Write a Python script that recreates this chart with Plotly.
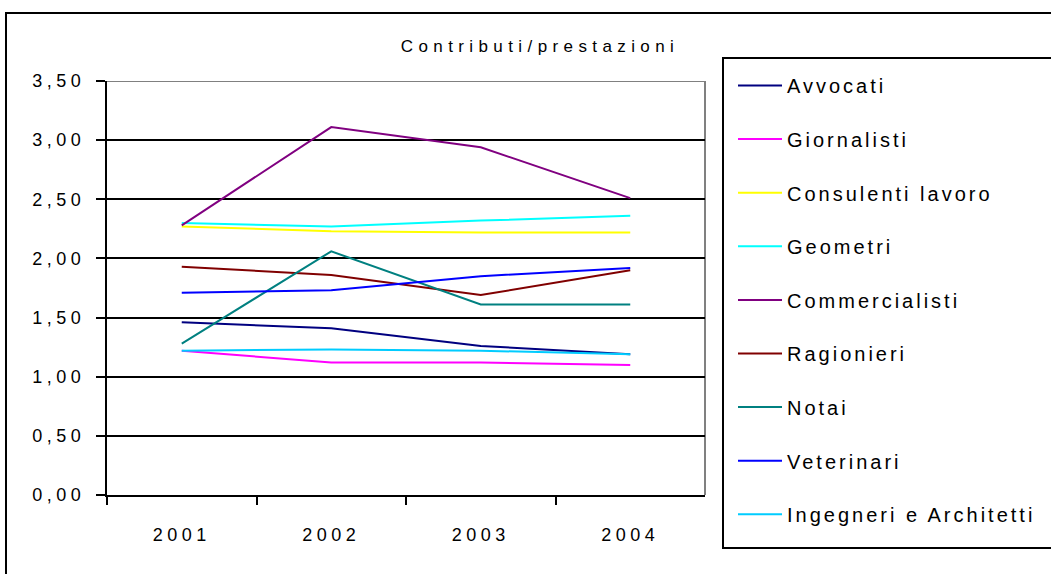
import plotly.graph_objects as go

W, H = 1051, 574

years = ["2001", "2002", "2003", "2004"]

avvocati = [1.46, 1.41, 1.26, 1.19]
giornalisti = [1.22, 1.12, 1.12, 1.10]
consulenti_lavoro = [2.27, 2.23, 2.22, 2.22]
geometri = [2.30, 2.27, 2.32, 2.36]
commercialisti = [2.28, 3.11, 2.94, 2.51]
ragionieri = [1.93, 1.86, 1.69, 1.90]
notai = [1.28, 2.06, 1.61, 1.61]
veterinari = [1.71, 1.73, 1.85, 1.92]
ingegneri_architetti = [1.22, 1.23, 1.22, 1.19]

series_names = ["Avvocati", "Giornalisti", "Consulenti lavoro", "Geometri",
                "Commercialisti", "Ragionieri", "Notai", "Veterinari",
                "Ingegneri e Architetti"]
series_values = [avvocati, giornalisti, consulenti_lavoro, geometri,
                 commercialisti, ragionieri, notai, veterinari,
                 ingegneri_architetti]
series_colors = ["#000080", "#FF00FF", "#FFFF00", "#00FFFF", "#800080",
                 "#800000", "#008080", "#0000FF", "#00CCFF"]

y_ticks = [0, 0.5, 1.0, 1.5, 2.0, 2.5, 3.0, 3.5]
y_tick_labels = ["0,00", "0,50", "1,00", "1,50", "2,00", "2,50", "3,00", "3,50"]

chart_title = "Contributi/prestazioni"

FONT = "Liberation Sans, Arial, sans-serif"


def spaced(text, px):
    return f'<span style="letter-spacing:{px}px">{text}</span>'


def px_x(x):
    return x / W


def px_y(y):
    return 1 - y / H


fig = go.Figure()
for name, vals, color in zip(series_names, series_values, series_colors):
    fig.add_trace(go.Scatter(
        x=years, y=vals, mode="lines", name=spaced(name, 3),
        line=dict(color=color, width=2), legendgroup=name,
    ))

# plot area border (top and right), drawn in grey over the gridlines
fig.add_shape(type="line", xref="x domain", yref="y", x0=0, x1=1,
              y0=y_ticks[-1], y1=y_ticks[-1], line=dict(color="#808080", width=2),
              layer="below")
fig.add_shape(type="line", xref="x domain", yref="y", x0=1, x1=1,
              y0=y_ticks[0], y1=y_ticks[-1], line=dict(color="#808080", width=2),
              layer="below")

# outer chart frame
fig.add_shape(type="rect", xref="paper", yref="paper",
              x0=px_x(6), x1=px_x(1100), y0=px_y(13), y1=px_y(620),
              line=dict(color="#000000", width=2), fillcolor="rgba(0,0,0,0)")
# legend frame
fig.add_shape(type="rect", xref="paper", yref="paper",
              x0=px_x(723), x1=px_x(1100), y0=px_y(58), y1=px_y(548),
              line=dict(color="#000000", width=2), fillcolor="rgba(0,0,0,0)")

fig.update_layout(
    width=W, height=H,
    margin=dict(l=0, r=0, t=0, b=0, autoexpand=False),
    paper_bgcolor="white", plot_bgcolor="white",
    font=dict(family=FONT, color="#000000", size=18),
    title=dict(text=spaced(chart_title, 5.4), x=px_x(540), xref="paper",
               xanchor="center", y=px_y(46), yref="container", yanchor="middle",
               font=dict(family=FONT, size=17, color="#000000")),
    showlegend=True,
    legend=dict(
        x=px_x(733), y=px_y(66), xanchor="left", yanchor="top",
        xref="paper", yref="paper",
        bgcolor="rgba(0,0,0,0)", borderwidth=0,
        font=dict(family=FONT, size=20, color="#000000"),
        tracegroupgap=24.6, itemwidth=44,
    ),
    xaxis=dict(
        domain=[px_x(107), px_x(705)],
        type="category", range=[-0.5, 3.5],
        tickvals=years, ticktext=[spaced(y, 4.5) for y in years],
        showline=True, linecolor="#000000", linewidth=2,
        ticks="outside", tickson="boundaries", ticklen=8, tickwidth=2,
        tickcolor="#000000", showgrid=False, zeroline=False,
        tickfont=dict(family=FONT, size=18, color="#000000"),
        ticklabelstandoff=22, automargin=False, fixedrange=True,
    ),
    yaxis=dict(
        domain=[px_y(495), px_y(81)],
        range=[0, 3.5],
        tickvals=y_ticks, ticktext=[spaced(t, 4.5) for t in y_tick_labels],
        showline=True, linecolor="#000000", linewidth=2,
        ticks="outside", ticklen=9, tickwidth=2, tickcolor="#000000",
        showgrid=True, gridcolor="#000000", gridwidth=2, zeroline=False,
        tickfont=dict(family=FONT, size=18, color="#000000"),
        ticklabelstandoff=7, automargin=False, fixedrange=True,
    ),
)

fig.write_html("out.html")
